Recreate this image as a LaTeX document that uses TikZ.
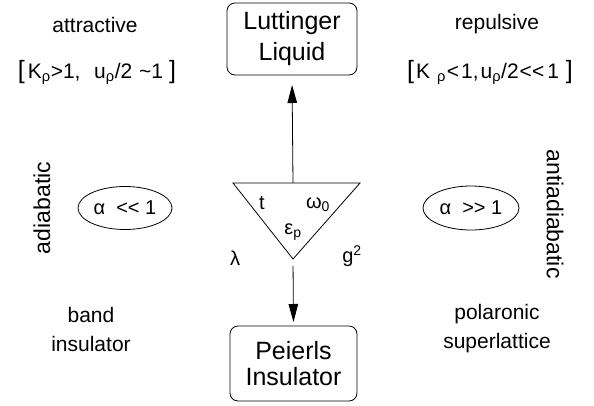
\documentclass[tikz,border=0pt]{standalone}
\usepackage{fontspec}
\setmainfont{Liberation Sans}
\usetikzlibrary{arrows.meta,shapes.geometric}
\newcommand{\lt}{{<}\kern0pt{<}}
\newcommand{\gt}{{>}\kern0pt{>}}
\newcommand{\bigbr}[1]{{\fontsize{25}{25}\selectfont #1}}
\begin{document}
\begin{tikzpicture}[x=1pt,y=-1pt,
  every node/.style={inner sep=0pt,outer sep=0pt},
  bigbox/.style={draw,line width=0.8pt,rounded corners=8pt,align=center},
  lbl/.style={font=\fontsize{21}{29}\selectfont,align=center},
  tri/.style={font=\fontsize{20}{24}\selectfont},
  oval/.style={draw,ellipse,line width=0.8pt,font=\fontsize{20}{24}\selectfont},
  side/.style={font=\fontsize{23}{28}\selectfont},
  arr/.style={line width=0.8pt,-{Triangle[length=18pt,width=9.5pt]}}]
\useasboundingbox (0,0) rectangle (594,405);
% boxes
\node[bigbox,minimum width=130pt,minimum height=72pt,font=\fontsize{25}{31}\selectfont] (LL) at (292,39) {Luttinger\\Liquid};
\node[bigbox,minimum width=127pt,minimum height=75pt,font=\fontsize{25}{26}\selectfont] (PI) at (293.5,363.5) {Peierls\\Insulator};
% triangle
\coordinate (tl) at (233,183);
\coordinate (tr) at (360,183);
\coordinate (ap) at (293,259);
\coordinate (ttop) at (293,183);
\draw[line width=0.8pt] (tl) -- (tr) -- (ap) -- cycle;
\draw[arr,shorten >=10pt] (ttop) -- (LL.south);
\draw[arr,shorten <=7pt,shorten >=4pt] (ap) -- (PI.north);
% triangle labels
\node[tri] (lt) at (262,203) {t};
\node[tri] (lw) at (318,205) {ω\textsubscript{0}};
\node[tri] (le) at (293,232) {ε\textsubscript{p}};
\node[tri] (ll) at (235,258) {λ};
\node[tri] (lg) at (352,256) {g\textsuperscript{2}};
% top labels
\node[lbl,anchor=base] (attr) at (95,32) {attractive};
\node[lbl,anchor=base] (rep) at (497,29) {repulsive};
\node[lbl,anchor=base] (cl) at (97,78) {\bigbr{[}\kern3pt K\textsubscript{ρ}>1,\ \ \kern2pt u\textsubscript{ρ}/2 \kern1pt\textasciitilde 1\kern6pt\bigbr{]}};
\node[lbl,anchor=base] (cr) at (490,78) {\bigbr{[}\kern2pt K\kern7pt\textsubscript{ρ}\kern1pt<\kern2pt1,\kern2pt u\textsubscript{ρ}/2\kern1pt\lt\kern3pt 1\kern7pt\bigbr{]}};
% ellipses
\node[oval,minimum width=94pt,minimum height=43pt] (ea) at (125,208) {α\ \ \lt\ 1};
\node[oval,minimum width=96pt,minimum height=44pt] (eb) at (471,208) {α\ \ \gt\ 1};
% side labels
\node[side,rotate=90] (ad) at (42,208) {adiabatic};
\node[side,rotate=-90] (aad) at (555,214) {antiadiabatic};
% bottom labels
\node[lbl,anchor=base] (band) at (91,351) {band\\insulator};
\node[lbl,anchor=base] (pol) at (497,348) {polaronic\\superlattice};
\end{tikzpicture}
\end{document}
